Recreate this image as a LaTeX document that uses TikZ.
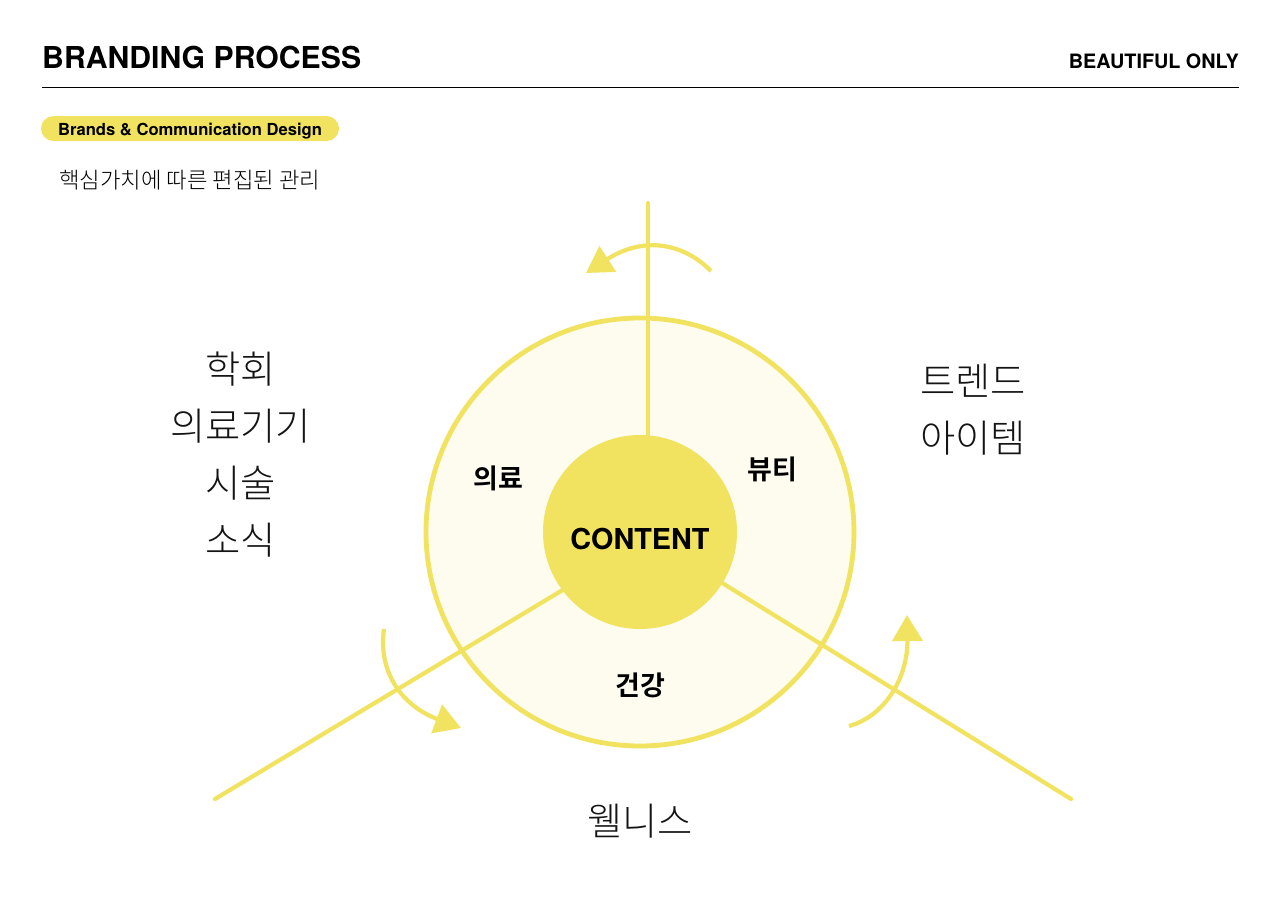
\documentclass[tikz,border=0pt]{standalone}
\usepackage{fontspec}
\usetikzlibrary{arrows.meta}
\setmainfont{TeX Gyre Heros}
\newfontfamily\kr{Noto Sans CJK KR Light}
\newfontfamily\krb{Noto Sans CJK KR Bold}
\definecolor{brandyellow}{HTML}{F1E360}
\definecolor{palefill}{HTML}{FDFCEF}
\tikzset{
  spoke/.style={draw=brandyellow,line width=4.2pt,line cap=round},
  turn/.style={draw=brandyellow,line width=4.2pt,-{Triangle[length=26pt,width=30pt,fill=brandyellow]}},
  big/.style={font=\kr\fontsize{38.3}{57}\selectfont,align=center,text=black!92,inner sep=0pt},
  sector/.style={font=\krb\fontsize{27}{30}\selectfont,text=black,inner sep=0pt},
}
\begin{document}
\begin{tikzpicture}[x=1pt,y=-1pt]
\useasboundingbox[fill=white] (0,0) rectangle (1280,905);
\node[anchor=west,inner sep=0pt,font=\bfseries\fontsize{30.2}{36}\selectfont] (title) at (42,57) {BRANDING PROCESS};
\node[anchor=east,inner sep=0pt,font=\bfseries\fontsize{19.8}{26}\selectfont] (brand) at (1239,61) {BEAUTIFUL ONLY};
\coordinate (ruleL) at (42,87.5);
\coordinate (ruleR) at (1239,87.5);
\draw[line width=1.2pt,black] (ruleL) -- (ruleR);
\node[fill=brandyellow,rounded corners=12.5pt,minimum width=298pt,minimum height=25pt,inner sep=0pt] (tag) at (190,128.5) {};
\node[inner sep=0pt,font=\bfseries\fontsize{16.6}{20}\selectfont] (tagText) at (190,131) {Brands \& Communication Design};
\node[anchor=west,inner sep=0pt,font=\kr\fontsize{22.3}{26}\selectfont] (sub) at (59,180) {핵심가치에 따른 편집된 관리};
\node[circle,draw=brandyellow,fill=palefill,line width=4.8pt,minimum size=428pt,inner sep=0pt] (outer) at (640,532) {};
\coordinate (topEnd) at (648,203);
\coordinate (topIn) at (648,440);
\coordinate (leftEnd) at (215,799);
\coordinate (leftIn) at (566,588);
\coordinate (rightEnd) at (1071,799);
\coordinate (rightIn) at (719,581);
\draw[spoke] (topEnd) -- (topIn);
\draw[spoke] (leftEnd) -- (leftIn);
\draw[spoke] (rightEnd) -- (rightIn);
\node[circle,fill=brandyellow,minimum size=194pt,inner sep=0pt] (core) at (640,532) {};
\node[inner sep=0pt,font=\bfseries\fontsize{28.8}{34}\selectfont] (coreText) at (640,539) {CONTENT};
\node[sector] (s1) at (498,478) {의료};
\node[sector] (s2) at (772,469) {뷰티};
\node[sector] (s3) at (640,685) {건강};
\node[big] (left) at (240.5,455) {학회\\의료기기\\시술\\소식};
\node[big] (right) at (973,410) {트렌드\\아이템};
\node[big] (bottom) at (640,821) {웰니스};
\coordinate (a1) at (711,271);
\coordinate (a1t) at (586,273);
\coordinate (a2) at (384,629);
\coordinate (a2t) at (461,728);
\coordinate (a3) at (849,726);
\coordinate (a3t) at (907,615);
\draw[turn] (a1) .. controls (680,240) and (640,238) .. (a1t);
\draw[turn] (a2) .. controls (378,670) and (400,705) .. (a2t);
\draw[turn] (a3) .. controls (886,716) and (908,676) .. (a3t);
\end{tikzpicture}
\end{document}
